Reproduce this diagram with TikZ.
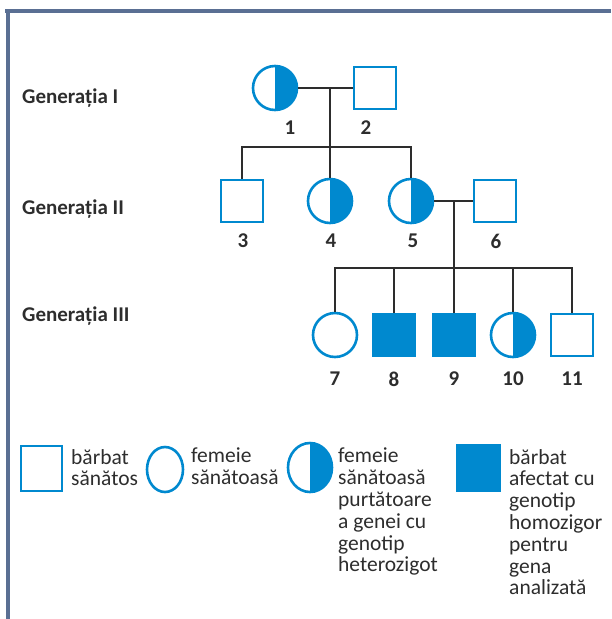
\documentclass[tikz,border=0pt]{standalone}
\usepackage{fontspec}
\setmainfont{Carlito}
\usetikzlibrary{calc,shapes.geometric}
\definecolor{pblue}{HTML}{0089CF}
\definecolor{pline}{HTML}{2D2D2D}
\definecolor{pframe}{HTML}{5A6F93}
\begin{document}
\begin{tikzpicture}[x=1pt,y=-1pt,
  male/.style={rectangle,draw=pblue,line width=2.6pt,fill=white,minimum width=42pt,minimum height=42pt,inner sep=0pt},
  female/.style={circle,draw=pblue,line width=2.6pt,fill=white,minimum size=44pt,inner sep=0pt},
  carrier/.style={female,path picture={\fill[pblue] (path picture bounding box.north) rectangle (path picture bounding box.south east);}},
  affected/.style={male,fill=pblue},
  link/.style={draw=pline,line width=2.4pt},
  num/.style={font=\fontsize{21}{24}\selectfont\bfseries,text=pline,inner sep=0pt},
  gen/.style={font=\fontsize{21}{24}\selectfont\bfseries,text=pline,anchor=west,inner sep=0pt},
  legtext/.style={font=\fontsize{21.5}{21.8}\selectfont,text=pline,align=left,anchor=north west,inner sep=0pt}]
\useasboundingbox (0,0) rectangle (611,619);
% frame
\draw[pframe,line width=4pt] (5,11) -- (611,11);
\draw[pframe,line width=4pt] (8,9) -- (8,619);

% generation labels
\node[gen] (g1) at (22,98) {Generația I};
\node[gen] (g2) at (22,209) {Generația II};
\node[gen] (g3) at (22,316) {Generația III};

% generation I
\node[carrier] (i1) at (275,88) {};
\node[male] (i2) at (375,88) {};
% generation II
\node[male] (i3) at (242,201) {};
\node[carrier] (i4) at (330,201) {};
\node[carrier] (i5) at (411,201) {};
\node[male] (i6) at (495,201) {};
% generation III
\node[female] (i7) at (335,335) {};
\node[affected] (i8) at (394,335) {};
\node[affected] (i9) at (454,335) {};
\node[carrier] (i10) at (513,335) {};
\node[male] (i11) at (572,335) {};

% family lines
\coordinate (m1) at (330,88);
\coordinate (s1) at (330,147);
\coordinate (m2) at (454,201);
\coordinate (s2) at (454,268);
\draw[link] (i1.east) -- (i2.west);
\draw[link] (m1) -- (s1);
\draw[link] (i3.north) -- (i3 |- s1) -- (i5 |- s1) -- (i5.north);
\draw[link] (s1) -- (i4.north);
\draw[link] (i5.east) -- (i6.west);
\draw[link] (m2) -- (s2);
\draw[link] (i7.north) -- (i7 |- s2) -- (i11 |- s2) -- (i11.north);
\draw[link] (i8 |- s2) -- (i8.north);
\draw[link] (i9 |- s2) -- (i9.north);
\draw[link] (i10 |- s2) -- (i10.north);

% numbers
\node[num] (n1) at (290,128) {1};
\node[num] (n2) at (366,128) {2};
\node[num] (n3) at (243,241) {3};
\node[num] (n4) at (331,241) {4};
\node[num] (n5) at (413,241) {5};
\node[num] (n6) at (496,241) {6};
\node[num] (n7) at (335,379) {7};
\node[num] (n8) at (394,379) {8};
\node[num] (n9) at (454,379) {9};
\node[num] (n10) at (513,379) {10};
\node[num] (n11) at (572,379) {11};

% legend
\node[male,minimum width=41pt,minimum height=45pt] (l1) at (41.5,468.5) {};
\node[female,ellipse,minimum width=36pt,minimum height=45pt] (l2) at (165,469.5) {};
\node[carrier,ellipse,minimum width=44pt,minimum height=49pt] (l3) at (310,467.5) {};
\node[affected,minimum width=43pt,minimum height=46pt] (l4) at (478.5,468) {};
\node[legtext] (t1) at (71,449) {bărbat\\sănătos};
\node[legtext] (t2) at (191,448) {femeie\\sănătoasă};
\node[legtext] (t3) at (338,448) {femeie\\sănătoasă\\purtătoare\\a genei cu\\genotip\\heterozigot};
\node[legtext] (t4) at (509,449) {bărbat\\afectat cu\\genotip\\homozigor\\pentru\\gena\\analizată};
\end{tikzpicture}
\end{document}
